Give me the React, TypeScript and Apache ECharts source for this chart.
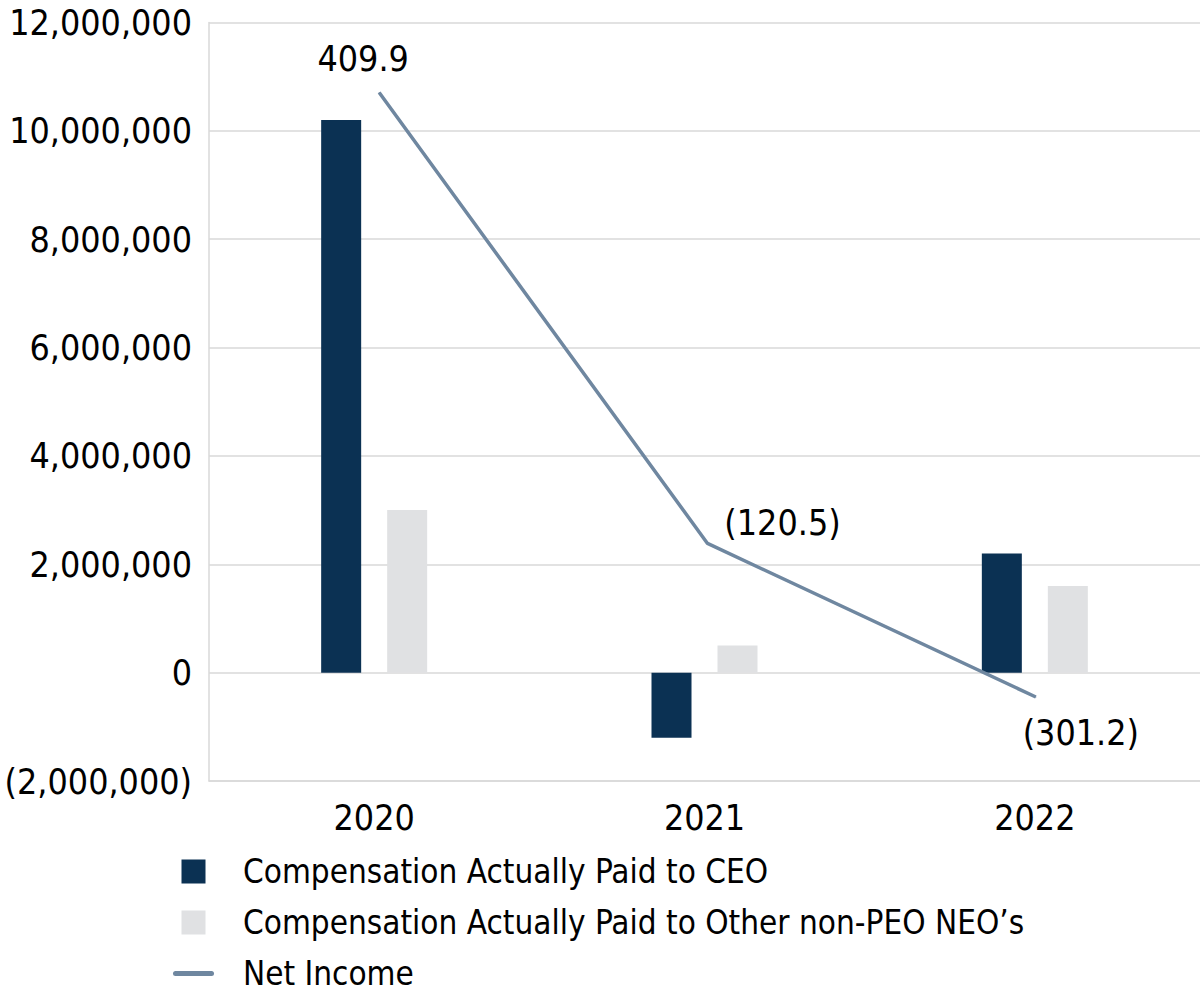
import React, { useEffect, useRef } from "react";
import * as echarts from "echarts";

const categories = ["2020", "2021", "2022"];
const ceoName = "Compensation Actually Paid to CEO";
const neoName = "Compensation Actually Paid to Other non-PEO NEO\u2019s";
const netName = "Net Income";
const ceoValues = [10200000, -1200000, 2200000];
const neoValues = [3000000, 500000, 1600000];
const netIncome = [409.9, -120.5, -301.2];
const yMin = -2000000;
const yMax = 12000000;
const yStep = 2000000;
const netMin = -400;
const netMax = 500;
const netStep = 100;

const FONT = '"DejaVu Sans Condensed", "Liberation Sans", sans-serif';
const labelOffsets: number[][] = [
  [-16, -16],
  [75, -3],
  [45, 53],
];

const squareIcon = "path://M0,12L0,12M8.5,0H32.5V24H8.5ZM41,12L41,12";
const lineIcon =
  "path://M2.5,9.5H38.5A2.5,2.5 0 0 1 38.5,14.5H2.5A2.5,2.5 0 0 1 2.5,9.5ZM0,0L0,0M41,24L41,24";

function fmtAxis(v: number): string {
  const s = Math.abs(v).toLocaleString("en-US");
  return v < 0 ? `(${s})` : s;
}
function fmtNet(v: number): string {
  const s = Math.abs(v).toFixed(1);
  return v < 0 ? `(${s})` : s;
}

export default function App() {
  const ref = useRef<HTMLDivElement>(null);
  useEffect(() => {
    if (!ref.current) return;
    const chart = echarts.init(ref.current, undefined, { renderer: "svg" });
    const grey = "#d9d9d9";
    chart.setOption({
      animation: false,
      backgroundColor: "#ffffff",
      grid: [
        { left: 209, right: 0, top: 16, bottom: 215 },
        { left: 215, width: 990, top: 16, bottom: 215 },
      ],
      xAxis: [
        {
          type: "category",
          gridIndex: 0,
          data: categories,
          axisLine: { onZero: false, lineStyle: { color: grey, width: 1.5 } },
          axisTick: { show: false },
          axisLabel: {
            color: "#000",
            fontSize: 35.5,
            fontFamily: FONT,
            lineHeight: 35,
            margin: 19,
          },
        },
        {
          type: "category",
          gridIndex: 1,
          data: categories,
          show: false,
        },
      ],
      yAxis: [
        {
          type: "value",
          gridIndex: 0,
          min: yMin,
          max: yMax,
          interval: yStep,
          axisLine: { show: true, lineStyle: { color: grey, width: 1.5 } },
          axisTick: { show: false },
          splitLine: { show: true, lineStyle: { color: grey, width: 1.5 } },
          axisLabel: {
            color: "#000",
            fontSize: 35.5,
            fontFamily: FONT,
            lineHeight: 35,
            padding: [10, 0, 0, 0],
            margin: 17,
            formatter: (v: number) => fmtAxis(v),
          },
        },
        {
          type: "value",
          gridIndex: 1,
          min: netMin,
          max: netMax,
          interval: netStep,
          show: false,
          splitLine: { show: false },
        },
      ],
      legend: {
        orient: "vertical",
        left: 173,
        top: 855,
        width: 1000,
        height: 200,
        padding: 0,
        itemWidth: 41,
        itemHeight: 24,
        itemGap: 18,
        align: "left",
        selectedMode: false,
        textStyle: {
          color: "#000",
          fontSize: 33,
          fontFamily: FONT,
          lineHeight: 30,
          padding: [0, 0, 0, 24],
        },
        data: [
          { name: ceoName, icon: squareIcon },
          { name: neoName, icon: squareIcon },
          {
            name: netName,
            icon: lineIcon,
            itemStyle: { color: "#6f87a0" },
          },
        ],
      },
      series: [
        {
          name: ceoName,
          type: "bar",
          xAxisIndex: 0,
          yAxisIndex: 0,
          data: ceoValues,
          barWidth: 40,
          barGap: "65%",
          itemStyle: { color: "#0b3153" },
        },
        {
          name: neoName,
          type: "bar",
          xAxisIndex: 0,
          yAxisIndex: 0,
          data: neoValues,
          barWidth: 40,
          barGap: "65%",
          itemStyle: { color: "#e0e1e3" },
        },
        {
          name: netName,
          type: "line",
          xAxisIndex: 1,
          yAxisIndex: 1,
          symbol: "circle",
          symbolSize: 1,
          showSymbol: true,
          lineStyle: { color: "#6f87a0", width: 3.5 },
          itemStyle: { color: "#6f87a0" },
          data: netIncome.map((v, i) => ({
            value: v,
            label: {
              show: true,
              position: "top",
              distance: 0,
              offset: labelOffsets[i],
              color: "#000",
              fontSize: 35.5,
              fontFamily: FONT,
              lineHeight: 35,
              formatter: (p: any) => fmtNet(p.value),
            },
          })),
        },
      ],
    });
    return () => chart.dispose();
  }, []);
  return (
    <div
      ref={ref}
      style={{ position: "absolute", left: 0, top: 0, width: 1200, height: 996 }}
    />
  );
}
